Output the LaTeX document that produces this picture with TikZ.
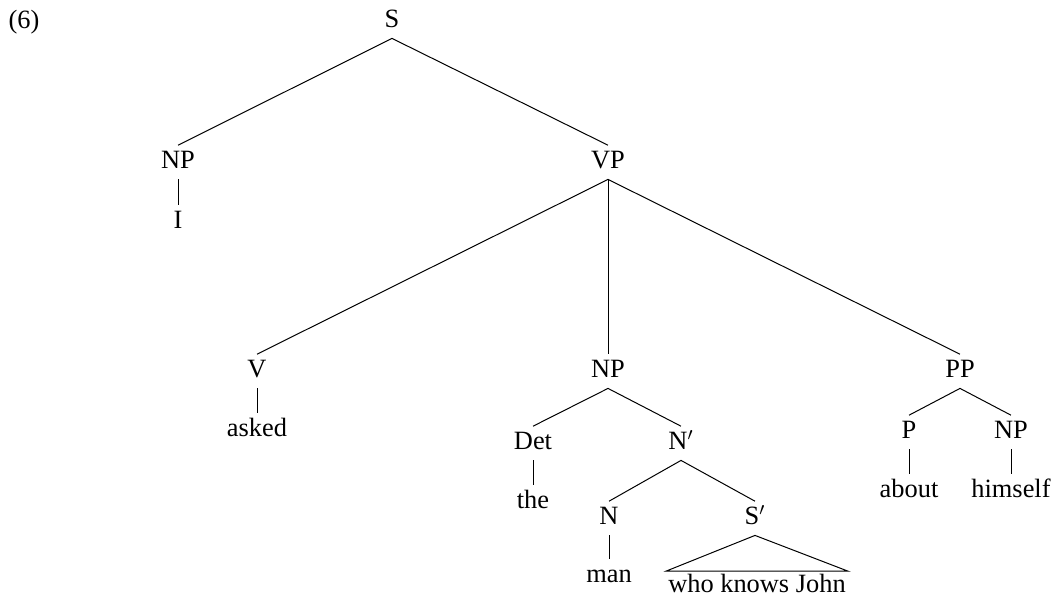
\documentclass[tikz,border=0pt]{standalone}
\usepackage{fontspec}
\setmainfont{Liberation Serif}

\begin{document}
\begin{tikzpicture}[x=0.5pt, y=-0.5pt,
  cat/.style = {anchor=base, inner xsep=1pt, inner ysep=2.5pt, text height=8.7pt, text depth=3pt, font=\fontsize{13.2}{16}\selectfont},
  branch/.style = {line width=0.5pt}]

\useasboundingbox (0,0) rectangle (1054,596);

% Example number
\node[cat] (num) at (24,28) {(6)};

% Top of the tree
\node[cat] (s) at (392,27) {S};
\node[cat] (np1) at (178,168) {NP};
\node[cat] (i) at (178,228) {I};
\node[cat] (vp) at (608,168) {VP};

% VP daughters
\node[cat] (v) at (257,377) {V};
\node[cat] (asked) at (257,436) {asked};
\node[cat] (np2) at (608,377) {NP};
\node[cat] (pp) at (960,377) {PP};

% Object NP
\node[cat] (det) at (533,449) {Det};
\node[cat] (the) at (533,508) {the};
\node[cat] (nbar) at (681,449) {N$'$};
\node[cat] (n) at (609,524) {N};
\node[cat] (man) at (609,582) {man};
\node[cat] (sbar) at (755,524) {S$'$};
\node[cat] (rel) at (757,592) {who knows John};

% PP
\node[cat] (p) at (909,438) {P};
\node[cat] (about) at (909,497) {about};
\node[cat] (np3) at (1011,438) {NP};
\node[cat] (himself) at (1011,497) {himself};

% Branches
\draw[branch] (s.south) -- (np1.north);
\draw[branch] (s.south) -- (vp.north);
\draw[branch] (np1.south) -- (i.north);
\draw[branch] (vp.south) -- (v.north);
\draw[branch] (vp.south) -- (np2.north);
\draw[branch] (vp.south) -- (pp.north);
\draw[branch] (v.south) -- (asked.north);
\draw[branch] (np2.south) -- (det.north);
\draw[branch] (np2.south) -- (nbar.north);
\draw[branch] (det.south) -- (the.north);
\draw[branch] (nbar.south) -- (n.north);
\draw[branch] (nbar.south) -- (sbar.north);
\draw[branch] (n.south) -- (man.north);
\draw[branch] (sbar.south) -- ([yshift=-1pt]rel.north east) -- ([yshift=-1pt]rel.north west) -- cycle;
\draw[branch] (pp.south) -- (p.north);
\draw[branch] (pp.south) -- (np3.north);
\draw[branch] (p.south) -- (about.north);
\draw[branch] (np3.south) -- (himself.north);

\end{tikzpicture}
\end{document}
